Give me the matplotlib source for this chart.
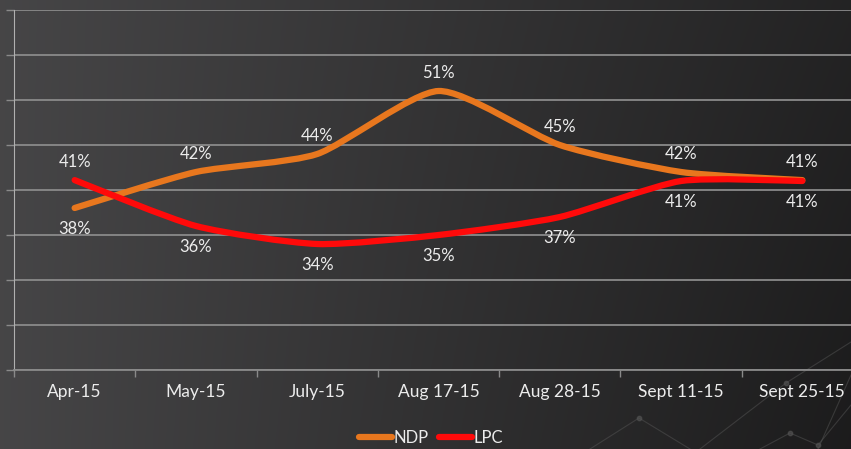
import matplotlib.pyplot as plt
import numpy as np
from matplotlib.path import Path
from matplotlib.patches import PathPatch
from matplotlib.lines import Line2D

plt.rcParams.update({'font.family': ['Lato', 'DejaVu Sans'], 'font.size': 11})

# Poll data (%)
dates = ['Apr-15', 'May-15', 'July-15', 'Aug 17-15', 'Aug 28-15', 'Sept 11-15', 'Sept 25-15']
ndp = [38.0, 42.0, 44.0, 51.0, 45.0, 42.0, 41.1]
lpc = [41.1, 36.0, 34.0, 35.0, 37.0, 41.0, 41.0]
ndp_labels = ['38%', '42%', '44%', '51%', '45%', '42%', '41%']
lpc_labels = ['41%', '36%', '34%', '35%', '37%', '41%', '41%']
ndp_above = [False, True, True, True, True, True, True]
lpc_above = [True, False, False, False, False, False, False]

NDP_COLOR = '#e8771e'
LPC_COLOR = '#ff0a0a'
TEXT = '#ececec'
GRID = '#8a8a8a'


def smooth_path(xs, ys, k=0.11):
    # bezier through the data points (like Excel "smoothed line")
    pts = np.column_stack([xs, ys]).astype(float)
    n = len(pts)
    verts = [pts[0]]
    codes = [Path.MOVETO]
    for i in range(n - 1):
        p0 = pts[max(i - 1, 0)]
        p1 = pts[i]
        p2 = pts[i + 1]
        p3 = pts[min(i + 2, n - 1)]
        c1 = p1 + (p2 - p0) * k
        c2 = p2 - (p3 - p1) * k
        verts += [c1, c2, p2]
        codes += [Path.CURVE4] * 3
    return Path(verts, codes)


fig = plt.figure(figsize=(8.51, 4.49), dpi=100)

# background gradient
bg = fig.add_axes([0, 0, 1, 1], zorder=-10)
gx = np.linspace(0, 1, 300)
gy = np.linspace(0, 1, 160)
GX, GY = np.meshgrid(gx, gy)
shade = 0.275 - 0.135 * GX - 0.03 * GY * GX
img = np.dstack([shade, shade * 0.99, shade * 1.01])
bg.imshow(np.clip(img, 0, 1), extent=[0, 1, 0, 1], aspect='auto', origin='upper')
# faint decorative network lines, bottom right
deco = [
    [(590, 449), (639, 418), (690, 449)],
    [(700, 449), (786, 383), (851, 342)],
    [(760, 449), (790, 433), (818, 445), (851, 405)],
    [(818, 449), (851, 375)],
]
for seg in deco:
    sx = [p[0] / 851 for p in seg]
    sy = [1 - p[1] / 449 for p in seg]
    bg.plot(sx, sy, color='#555555', lw=0.8, alpha=0.5)
    bg.scatter(sx[1:-1], sy[1:-1], s=10, color='#555555', alpha=0.6)
bg.set_xlim(0, 1)
bg.set_ylim(0, 1)
bg.axis('off')

ax = fig.add_axes([14 / 851, 79 / 449, 849 / 851, 360 / 449])
ax.patch.set_alpha(0)
x = np.arange(len(dates))
ax.set_xlim(-0.5, len(dates) - 0.5)
ax.set_ylim(20, 60)

ax.set_yticks(np.arange(20, 61, 5))
ax.set_yticklabels([])
ax.grid(axis='y', color=GRID, lw=1.3)
ax.set_axisbelow(True)
ax.tick_params(axis='y', length=6, color=GRID, width=1)

ax.set_xticks(x)
ax.set_xticklabels(dates, color=TEXT, fontsize=12.5)
ax.tick_params(axis='x', which='major', length=0, pad=10)
ax.set_xticks(np.arange(-0.5, len(dates), 1), minor=True)
ax.tick_params(axis='x', which='minor', length=5, color=GRID, width=1)

for s in ['top', 'right']:
    ax.spines[s].set_visible(False)
ax.spines['left'].set_color('#b0b0b0')
ax.spines['bottom'].set_color(GRID)
ax.spines['bottom'].set_linewidth(1.3)

for vals, col in [(ndp, NDP_COLOR), (lpc, LPC_COLOR)]:
    patch = PathPatch(smooth_path(x, vals), facecolor='none', edgecolor=col,
                      lw=4.5, capstyle='round', joinstyle='round', zorder=3)
    ax.add_patch(patch)

for vals, labs, above in [(ndp, ndp_labels, ndp_above), (lpc, lpc_labels, lpc_above)]:
    for xi, v, lab, up in zip(x, vals, labs, above):
        ax.annotate(lab, (xi, v), xytext=(0, 13 if up else -15), textcoords='offset points',
                    ha='center', va='center', color=TEXT, fontsize=12, zorder=4)

handles = [Line2D([], [], color=NDP_COLOR, lw=4.5, solid_capstyle='round'),
           Line2D([], [], color=LPC_COLOR, lw=4.5, solid_capstyle='round')]
fig.legend(handles, ['NDP', 'LPC'], loc='center', bbox_to_anchor=(431 / 851, 11 / 449),
           ncol=2, frameon=False, handlelength=2.0, handletextpad=0.1, columnspacing=0.6,
           labelcolor=TEXT, fontsize=12)

fig.savefig('out.png', dpi=100)
